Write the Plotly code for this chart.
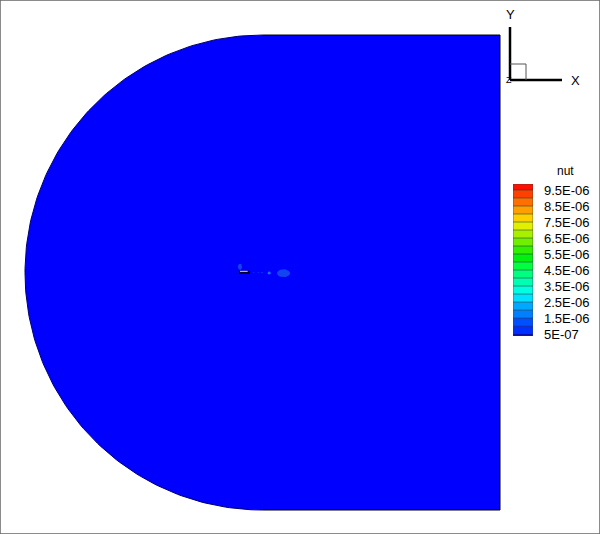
import numpy as np
import plotly.graph_objects as go

W, H = 600, 534
FONT = "Liberation Sans"

# Flow domain (semi-circular far field, straight downstream box), chord units
domain_radius = 20.0
domain_right = 20.0

# nut contour patches near the body: centre x, centre y, half-width, half-height, colour
patch_x = [1.77, 0.56, -1.9, -0.75, -0.35, -0.05, -1.55]
patch_y = [-0.06, -0.04, 0.48, 0.0, 0.0, -0.02, 0.0]
patch_rx = [0.55, 0.14, 0.17, 0.08, 0.08, 0.1, 0.5]
patch_ry = [0.33, 0.13, 0.26, 0.05, 0.05, 0.05, 0.1]
patch_col = ["#1245f0", "#1a70f0", "#1245f0", "#0c30f5", "#0c30f5", "#1245f0", "#0c38f0"]

# Body section
body_x = [-2.0, -1.05]
body_y = [0.02, 0.02]
body_core_x = [-1.9, -1.25]
body_core_y = [0.1, 0.1]

# Legend
band_low = [0.375e-6] + [0.5e-6 * i for i in range(1, 20)]
band_high = [0.5e-6 * i for i in range(1, 20)] + [9.875e-6]
band_col = ["#0000e0", "#0030ff", "#0050ff", "#0080ff", "#00a8ff", "#00e0ff", "#00ffe0", "#00ffb0",
            "#00ff80", "#00ff40", "#00f010", "#30f000", "#70f000", "#a8f000", "#e0f000", "#ffd000",
            "#ffa000", "#ff7000", "#ff4000", "#ff1000"]
tick_vals = [5e-7, 1.5e-6, 2.5e-6, 3.5e-6, 4.5e-6, 5.5e-6, 6.5e-6, 7.5e-6, 8.5e-6, 9.5e-6]
tick_text = ["5E-07", "1.5E-06", "2.5E-06", "3.5E-06", "4.5E-06", "5.5E-06", "6.5E-06", "7.5E-06", "8.5E-06", "9.5E-06"]
line_vals = tick_vals + [1e-6, 2e-6, 3e-6, 4e-6, 5e-6, 6e-6, 7e-6, 8e-6, 9e-6]
legend_title = "nut"

# boundary of the domain
theta = np.linspace(np.pi / 2, 3 * np.pi / 2, 181)
arc_x = domain_radius * np.cos(theta)
arc_y = domain_radius * np.sin(theta)
bx = np.r_[arc_x, domain_right, domain_right, 0]
by = np.r_[arc_y, -domain_radius, domain_radius, domain_radius]

fig = go.Figure()
fig.add_trace(go.Scatter(x=bx, y=by, mode="lines", fill="toself", fillcolor="#0000ff",
                         line=dict(width=0), hoverinfo="skip", showlegend=False))
fig.add_trace(go.Scatter(x=arc_x, y=arc_y, mode="lines", line=dict(color="#00006a", width=1),
                         hoverinfo="skip", showlegend=False))
fig.add_trace(go.Scatter(x=[0, domain_right, domain_right, 0], y=[-domain_radius, -domain_radius, domain_radius, domain_radius],
                         mode="lines", line=dict(color="#000000", width=1), hoverinfo="skip", showlegend=False))

t = np.linspace(0, 2 * np.pi, 41)
for cx, cy, rx, ry, c in zip(patch_x, patch_y, patch_rx, patch_ry, patch_col):
    fig.add_trace(go.Scatter(x=cx + rx * np.cos(t), y=cy + ry * np.sin(t), mode="lines", fill="toself",
                             fillcolor=c, line=dict(width=0), hoverinfo="skip", showlegend=False))
fig.add_trace(go.Scatter(x=body_x, y=body_y, mode="lines", line=dict(color="#000020", width=3),
                         hoverinfo="skip", showlegend=False))
fig.add_trace(go.Scatter(x=body_core_x, y=body_core_y, mode="lines", line=dict(color="#d8d8d8", width=1),
                         hoverinfo="skip", showlegend=False))

fig.add_trace(go.Bar(x=[0.5] * len(band_low), y=[h - l for l, h in zip(band_low, band_high)], base=band_low,
                     width=1, marker=dict(color=band_col, line=dict(width=0)),
                     xaxis="x2", yaxis="y2", hoverinfo="skip", showlegend=False))
for v in line_vals:
    fig.add_shape(type="line", xref="x2", yref="y2", x0=0, x1=1, y0=v, y1=v,
                  line=dict(color="rgba(40,60,40,0.55)", width=1))
fig.add_shape(type="rect", xref="x2", yref="y2", x0=0, x1=1, y0=band_low[0], y1=band_high[-1],
              line=dict(color="rgba(60,60,60,0.6)", width=1))


def px(x):
    return x / W


def py(y):
    return 1 - y / H


# Axis triad
for x0, y0, x1, y1, col, w in [(510, 27, 510, 80, "#000", 2.5), (510, 80, 562, 80, "#000", 2.5),
                               (510, 64, 526, 64, "#555", 1), (526, 64, 526, 80, "#555", 1)]:
    fig.add_shape(type="line", xref="paper", yref="paper", x0=px(x0), x1=px(x1), y0=py(y0), y1=py(y1),
                  line=dict(color=col, width=w))
for s, x, y, sz in [("X", 575, 80, 13), ("Y", 510, 15, 13), ("Z", 509, 80, 9), (legend_title, 565, 171, 12)]:
    fig.add_annotation(text=s, xref="paper", yref="paper", x=px(x), y=py(y), showarrow=False,
                       xanchor="center", yanchor="middle", font=dict(family=FONT, size=sz, color="#000"))

fig.add_shape(type="rect", xref="paper", yref="paper", x0=0, x1=1, y0=0, y1=1, line=dict(color="#666", width=1.5))

fig.update_layout(
    template="none",
    width=W, height=H, margin=dict(l=0, r=0, t=0, b=0, pad=0, autoexpand=False), paper_bgcolor="#fff", plot_bgcolor="#fff",
    font=dict(family=FONT), showlegend=False, barmode="overlay",
    xaxis=dict(domain=[0, 1], range=[-22.105, 28.42], visible=False, fixedrange=True, automargin=False),
    yaxis=dict(domain=[0, 1], range=[-22.02, 22.95], visible=False, fixedrange=True, automargin=False),
    xaxis2=dict(domain=[513 / W, 533 / W], range=[0, 1], visible=False, anchor="y2", fixedrange=True, automargin=False),
    yaxis2=dict(domain=[1 - 336 / H, 1 - 184 / H], range=[band_low[0], band_high[-1]], anchor="x2", side="right",
                tickmode="array", tickvals=tick_vals, ticktext=tick_text, ticks="", showgrid=False, zeroline=False,
                showline=False, ticklabelstandoff=10, tickfont=dict(family=FONT, size=13, color="#000"),
                fixedrange=True, automargin=False),
)
fig.write_html("out.html", config=dict(displayModeBar=False),
               post_script="document.documentElement.style.overflow='hidden';document.body.style.margin='0';")
